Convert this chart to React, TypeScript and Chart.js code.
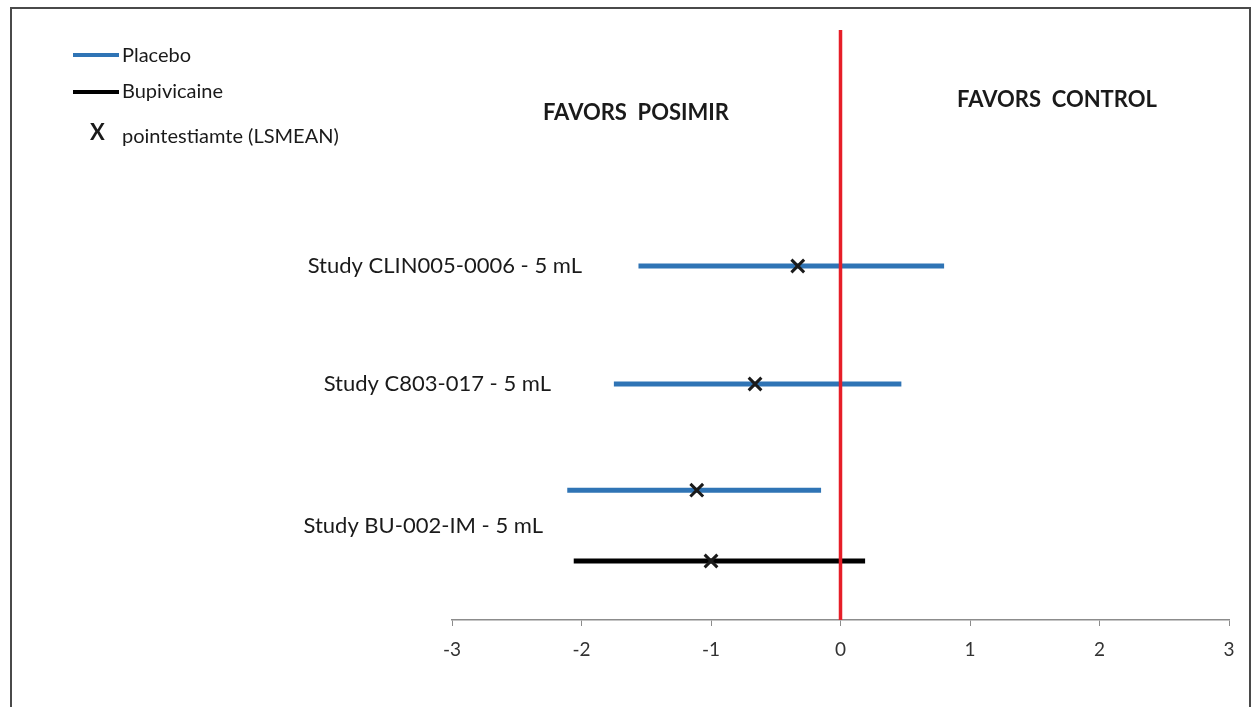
import React, { useEffect, useRef } from "react";
import { Chart, registerables } from "chart.js";

Chart.register(...registerables);

// ---- data ----
const studyLabels = ["Study CLIN005-0006 - 5 mL", "Study C803-017 - 5 mL", "Study BU-002-IM - 5 mL"];
const studyLabelRow = [6, 4, 1.6];

const placeboLow = [-1.56, -1.75, -2.11];
const placeboHigh = [0.8, 0.47, -0.15];
const placeboEst = [-0.33, -0.66, -1.11];
const placeboRow = [6, 4, 2.2];

const bupiLow = [-2.06];
const bupiHigh = [0.19];
const bupiEst = [-1.0];
const bupiRow = [1.0];

const xTicks = [-3, -2, -1, 0, 1, 2, 3];
const favorsLeft = "FAVORS  POSIMIR";
const favorsRight = "FAVORS  CONTROL";
const legendLabels = ["Placebo", "Bupivicaine", "pointestiamte (LSMEAN)"];

const BLUE = "#2f74b5";
const BLACK = "#000000";
const RED = "#e61e28";
const FONT = "Lato, 'Open Sans', sans-serif";

export default function App() {
  const ref = useRef<HTMLCanvasElement | null>(null);

  useEffect(() => {
    if (!ref.current) return;

    const datasets: any[] = [];
    const estPts = placeboEst.map((x, i) => ({ x, y: placeboRow[i] })).concat(
      bupiEst.map((x, i) => ({ x, y: bupiRow[i] }))
    );
    datasets.push({
      type: "scatter",
      data: estPts,
      pointStyle: "crossRot",
      pointRadius: 9,
      borderColor: "#1a1a1a",
      borderWidth: 3,
      order: 0,
    });
    datasets.push({
      type: "line",
      data: [
        { x: 0, y: 0 },
        { x: 0, y: 10 },
      ],
      borderColor: RED,
      borderWidth: 3.5,
      pointRadius: 0,
      order: 1,
    });
    placeboLow.forEach((lo, i) => {
      datasets.push({
        type: "line",
        data: [
          { x: lo, y: placeboRow[i] },
          { x: placeboHigh[i], y: placeboRow[i] },
        ],
        borderColor: BLUE,
        borderWidth: 5,
        pointRadius: 0,
        order: 2,
      });
    });
    bupiLow.forEach((lo, i) => {
      datasets.push({
        type: "line",
        data: [
          { x: lo, y: bupiRow[i] },
          { x: bupiHigh[i], y: bupiRow[i] },
        ],
        borderColor: BLACK,
        borderWidth: 5,
        pointRadius: 0,
        order: 2,
      });
    });

    const textPlugin = {
      id: "texts",
      beforeDraw(chart: any) {
        const ctx = chart.ctx;
        ctx.save();
        ctx.fillStyle = "#ffffff";
        ctx.fillRect(0, 0, chart.width, chart.height);
        ctx.strokeStyle = "#4a4a4a";
        ctx.lineWidth = 2;
        ctx.strokeRect(11, 8, 1239, 720);
        ctx.restore();
      },
      afterDraw(chart: any) {
        const ctx = chart.ctx;
        const ys = chart.scales.y;
        ctx.save();
        ctx.fillStyle = "#1a1a1a";
        ctx.font = `22px ${FONT}`;
        ctx.textBaseline = "middle";
        ctx.textAlign = "right";
        const labelRight = [582, 551, 543];
        studyLabels.forEach((t, i) => {
          ctx.fillText(t, labelRight[i], ys.getPixelForValue(studyLabelRow[i]));
        });
        ctx.font = `bold 22px ${FONT}`;
        ctx.textAlign = "center";
        ctx.fillText(favorsLeft, 636, 113);
        ctx.fillText(favorsRight, 1057, 100);
        // legend
        ctx.lineWidth = 4;
        ctx.strokeStyle = BLUE;
        ctx.beginPath();
        ctx.moveTo(73, 55);
        ctx.lineTo(119, 55);
        ctx.stroke();
        ctx.strokeStyle = BLACK;
        ctx.beginPath();
        ctx.moveTo(73, 92);
        ctx.lineTo(119, 92);
        ctx.stroke();
        ctx.textAlign = "left";
        ctx.font = `20px ${FONT}`;
        ctx.fillText(legendLabels[0], 122, 56);
        ctx.fillText(legendLabels[1], 122, 92);
        ctx.fillText(legendLabels[2], 122, 137);
        ctx.font = `bold 22px ${FONT}`;
        ctx.fillText("X", 90, 133);
        ctx.restore();
      },
    };

    const chart = new Chart(ref.current, {
      type: "scatter",
      data: { datasets },
      options: {
        animation: false,
        responsive: false,
        layout: { padding: { left: 452, right: 29, top: 30, bottom: 27 } },
        plugins: { legend: { display: false }, tooltip: { enabled: false } },
        scales: {
          x: {
            type: "linear",
            min: -3,
            max: 3,
            afterBuildTicks: (s: any) => {
              s.ticks = xTicks.map((v) => ({ value: v }));
            },
            afterFit: (s: any) => {
              s.height = 60;
            },
            grid: {
              drawOnChartArea: false,
              drawTicks: true,
              tickLength: 6,
              color: "#8c8c8c",
            },
            border: { color: "#8c8c8c", width: 1.5 },
            ticks: {
              color: "#333333",
              font: { family: FONT, size: 19 },
              padding: 12,
              maxRotation: 0,
            },
          },
          y: {
            type: "linear",
            min: 0,
            max: 10,
            display: false,
          },
        },
      },
      plugins: [textPlugin],
    } as any);

    return () => chart.destroy();
  }, []);

  return (
    <div style={{ position: "fixed", left: 0, top: 0, width: 1258, height: 707 }}>
      <canvas ref={ref} width={1258} height={707} style={{ width: 1258, height: 707, display: "block" }} />
    </div>
  );
}
